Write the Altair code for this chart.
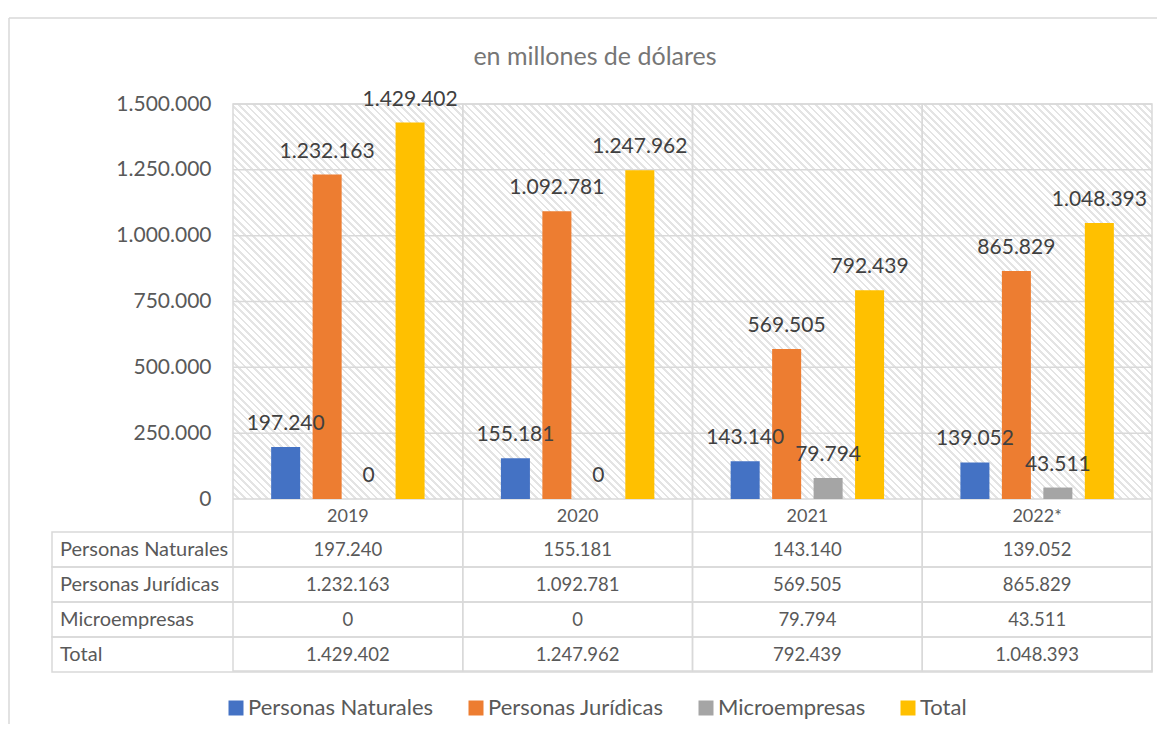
import altair as alt
import pandas as pd

# ---- data ----
years = ["2019", "2020", "2021", "2022*"]
series = ["Personas Naturales", "Personas Jurídicas", "Microempresas", "Total"]
naturales = [197240, 155181, 143140, 139052]
juridicas = [1232163, 1092781, 569505, 865829]
micro = [0, 0, 79794, 43511]
total = [1429402, 1247962, 792439, 1048393]
y_ticks = [0, 250000, 500000, 750000, 1000000, 1250000, 1500000]
subtitle = "en millones de dólares"
colors = ["#4472C4", "#ED7D31", "#A5A5A5", "#FFC000"]

rows = []
for name, vals in zip(series, [naturales, juridicas, micro, total]):
    for yr, v in zip(years, vals):
        rows.append({"year": yr, "series": name, "value": v})
df = pd.DataFrame(rows)
df_ticks = pd.DataFrame({"v": y_ticks})
df_rows = pd.DataFrame({"series": series})
df_years = pd.DataFrame({"year": years})
one = pd.DataFrame({"t": [subtitle]})

W, H = 919, 395
FONT = "Lato"
GRID = "#d9d9d9"
TXT = "#595959"

# diagonal hatch background via a striped linear gradient
n_per = 180
dt = 1.0 / n_per
stops = []
for k in range(n_per):
    b = k * dt
    stops += [
        {"offset": round(b, 6), "color": "#ffffff"},
        {"offset": round(b + 0.62 * dt, 6), "color": "#ffffff"},
        {"offset": round(b + 0.62 * dt, 6), "color": "#e4e4e4"},
        {"offset": round(b + dt, 6), "color": "#e4e4e4"},
    ]
r = H / W
s = (1 + r) / (1 + r * r)
hatch = {"gradient": "linear", "x1": 0, "y1": 1, "x2": s, "y2": 1 - r * s, "stops": stops}

x_axis = alt.Axis(title=None, domain=False, ticks=False, tickSize=0, grid=False,
                  labelFontSize=18, labelFont=FONT, labelColor=TXT, labelPadding=17,
                  labelBaseline="middle", labelAngle=0)
x_enc = alt.X("year:N", scale=alt.Scale(domain=years, paddingInner=0, paddingOuter=0), axis=x_axis)

y_scale = alt.Scale(domain=[0, 1500000], nice=False, zero=True)
y_axis = alt.Axis(title=None, domain=False, ticks=False, tickSize=0, grid=False, values=y_ticks,
                  format=",.0f", labelFontSize=21, labelFont=FONT, labelColor=TXT, labelPadding=22)

bg = alt.Chart(one).mark_rect(fill=hatch).encode(
    x=alt.value(0), x2=alt.value(W), y=alt.value(0), y2=alt.value(H))

grid = alt.Chart(df_ticks).mark_rule(color=GRID, strokeWidth=1.5).encode(
    y=alt.Y("v:Q", scale=y_scale, axis=y_axis), x=alt.value(0), x2=alt.value(W))

vlines = alt.Chart(df_years).mark_rect(fill="transparent", stroke=GRID, strokeWidth=1.5).encode(
    x=x_enc, y=alt.value(0), y2=alt.value(567))

bars = alt.Chart(df).mark_bar().encode(
    x=x_enc,
    xOffset=alt.XOffset("series:N", scale=alt.Scale(domain=series, paddingInner=0.3, paddingOuter=0.92)),
    y=alt.Y("value:Q", scale=y_scale, axis=y_axis),
    color=alt.Color("series:N", scale=alt.Scale(domain=series, range=colors),
                    legend=alt.Legend(title=None, orient="none", legendX=-8, legendY=593,
                                      direction="horizontal", symbolType="square", symbolSize=225,
                                      symbolStrokeWidth=0, labelFontSize=22, labelFont=FONT,
                                      labelColor=TXT, columnPadding=31, labelOffset=1, padding=0,
                                      labelLimit=0)),
)

labels = alt.Chart(df).mark_text(fontSize=21, font=FONT, color="#404040", baseline="middle", dy=-23).encode(
    x=x_enc,
    xOffset=alt.XOffset("series:N", scale=alt.Scale(domain=series, paddingInner=0.3, paddingOuter=0.92)),
    y=alt.Y("value:Q", scale=y_scale, axis=y_axis),
    text=alt.Text("value:Q", format=","),
)

title_txt = alt.Chart(one).mark_text(fontSize=25, font=FONT, color="#767676", baseline="middle",
                                     fontWeight="normal").encode(
    x=alt.value(362), y=alt.value(-47), text="t:N")

frame_top = alt.Chart(one).mark_rule(color=GRID, strokeWidth=1.5).encode(
    x=alt.value(-224), x2=alt.value(940), y=alt.value(-86))
frame_left = alt.Chart(one).mark_rule(color=GRID, strokeWidth=1.5).encode(
    x=alt.value(-224), y=alt.value(-86), y2=alt.value(640))

main = alt.layer(bg, grid, vlines, bars, labels, title_txt, frame_top, frame_left)

t_y = alt.Y("series:N", scale=alt.Scale(domain=series, range=[428, 568], paddingInner=0, paddingOuter=0),
            axis=None)
row_rects = alt.Chart(df_rows).mark_rect(fill="transparent", stroke=GRID, strokeWidth=1.5).encode(
    y=t_y, x=alt.value(-181), x2=alt.value(W))
cell_vals = alt.Chart(df).mark_text(fontSize=18.5, font=FONT, color=TXT, baseline="middle").encode(
    x=x_enc, y=t_y, text=alt.Text("value:Q", format=","))
row_labels = alt.Chart(df_rows).mark_text(fontSize=20, font=FONT, color=TXT, align="left",
                                          baseline="middle").encode(
    x=alt.value(-173), y=t_y, text="series:N")
table = alt.layer(row_rects, cell_vals, row_labels)

chart = alt.layer(main, table).resolve_scale(y="independent").properties(
    width=W, height=H,
    autosize=alt.AutoSizeParams(type="none"),
    padding={"left": 225, "top": 96, "right": 5, "bottom": 225},
).configure(
    font=FONT,
    locale={"number": {"decimal": ",", "thousands": ".", "grouping": [3], "currency": ["$", ""]}},
).configure_view(stroke=None)

chart.save("out.html", embed_options={"renderer": "svg", "actions": False})
